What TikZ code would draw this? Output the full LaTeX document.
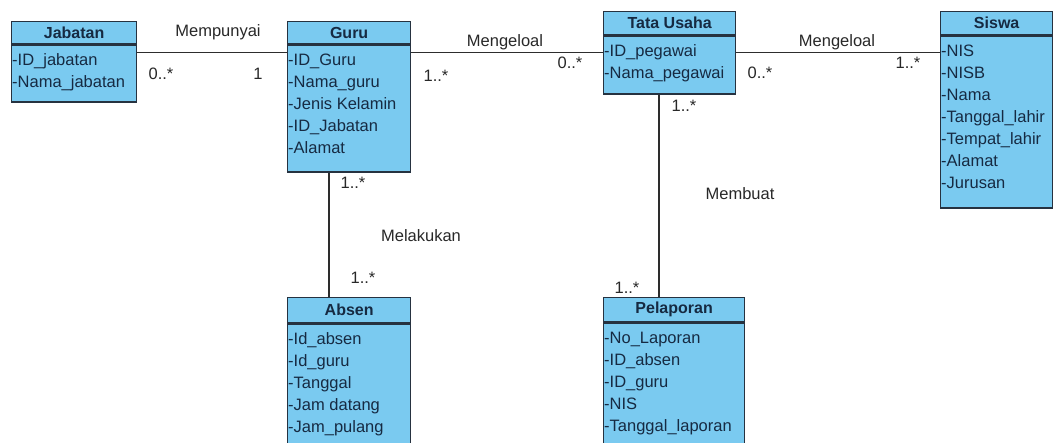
\documentclass[tikz,border=0pt]{standalone}
\usepackage{fontspec}
\setmainfont{Liberation Sans}
\usepackage{tikz}
\usetikzlibrary{calc}
\definecolor{clsfill}{RGB}{122,202,240}
\definecolor{clsdraw}{RGB}{38,50,64}
\definecolor{clstext}{RGB}{22,42,66}
\definecolor{linecol}{RGB}{45,45,45}
\definecolor{labcol}{RGB}{40,40,40}

\begin{document}
\begin{tikzpicture}[x=1pt,y=-1pt,font=\fontsize{16.5}{19}\selectfont]
\useasboundingbox (0,0) rectangle (1056,442);
\clip (0,0) rectangle (1056,442);
\tikzset{head/.style={draw=clsdraw,fill=clsfill,line width=1.3pt,anchor=north west,inner sep=0pt,text=clstext,font=\fontsize{16}{19}\selectfont\bfseries}}
\tikzset{body/.style={draw=clsdraw,fill=clsfill,line width=1.3pt,anchor=north west,inner sep=0pt}}
\tikzset{attr/.style={anchor=base west,inner sep=0pt,text=clstext}}
\tikzset{assoc/.style={draw=linecol,line width=1.2pt}}
\tikzset{lbl/.style={text=labcol,inner sep=1pt}}
% classes: name/x/y/width/head height/body height/title/attributes
\foreach \nm/\x/\y/\w/\hh/\bh/\ttl/\attrs in {
  jab/11/21/125/22/57/Jabatan/{-ID\_jabatan,-Nama\_jabatan},
  guru/287/21/123/22/127/Guru/{-ID\_Guru,-Nama\_guru,-Jenis Kelamin,-ID\_Jabatan,-Alamat},
  tu/603/11/132/23/58/Tata Usaha/{-ID\_pegawai,-Nama\_pegawai},
  siswa/940/11/112/23/172/Siswa/{-NIS,-NISB,-Nama,-Tanggal\_lahir,-Tempat\_lahir,-Alamat,-Jurusan},
  absen/287/297/123/25/160/Absen/{-Id\_absen,-Id\_guru,-Tanggal,-Jam datang,-Jam\_pulang},
  pel/603/297/141/24/160/Pelaporan/{-No\_Laporan,-ID\_absen,-ID\_guru,-NIS,-Tanggal\_laporan}} {
  \node[head,minimum width=\w,minimum height=\hh] (\nm-h) at (\x,\y) {\ttl};
  \node[body,minimum width=\w,minimum height=\bh] (\nm) at (\nm-h.south west) {};
  \foreach \a [count=\i] in \attrs
    \node[attr] (\nm-\i) at ({\x+1},{\y+\hh+17+22*(\i-1)+5.5}) {\a};
}
% associations
\draw[assoc] ([yshift=-8pt]jab.north east) -- ([yshift=-8pt]guru.north west);
\draw[assoc] ([yshift=-8pt]guru.north east) coordinate (g1) -- (g1 -| tu.west);
\draw[assoc] ([yshift=-17pt]tu.north east) -- ([yshift=-17pt]siswa.north west);
\draw[assoc] ([xshift=42pt]guru.south west) coordinate (g2) -- (g2 |- absen-h.north);
\draw[assoc] ([xshift=56pt]tu.south west) coordinate (t1) -- (t1 |- pel-h.north);
% names and multiplicities
\node[lbl] (l-mempunyai) at (218,32) {Mempunyai};
\node[lbl] (m-jab) at (161,74) {0..*};
\node[lbl] (m-guru1) at (258,74) {1};
\node[lbl] (l-kelola1) at (505,42) {Mengeloal};
\node[lbl] (m-guru2) at (436,76) {1..*};
\node[lbl] (m-tu1) at (570,63) {0..*};
\node[lbl] (l-kelola2) at (837,42) {Mengeloal};
\node[lbl] (m-tu2) at (760,73) {0..*};
\node[lbl] (m-siswa) at (908,63) {1..*};
\node[lbl] (m-guru3) at (353,183) {1..*};
\node[lbl] (l-melakukan) at (421,236) {Melakukan};
\node[lbl] (m-absen) at (363,278) {1..*};
\node[lbl] (m-tu3) at (684,106) {1..*};
\node[lbl] (l-membuat) at (740,194) {Membuat};
\node[lbl] (m-pel) at (627,288) {1..*};
\end{tikzpicture}
\end{document}
